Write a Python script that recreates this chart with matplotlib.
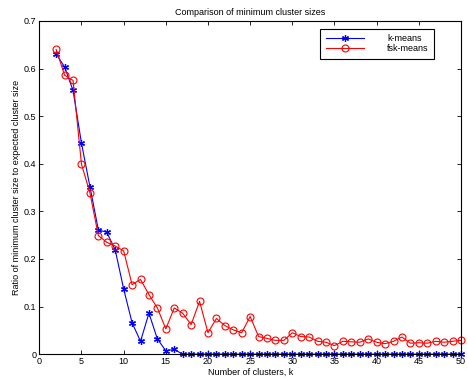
import numpy as np
import matplotlib
matplotlib.use("Agg")
import matplotlib.pyplot as plt

plt.rcParams['font.family'] = ['Liberation Sans', 'DejaVu Sans']

k = np.arange(2, 51)

kmeans = [0.631, 0.603, 0.554, 0.443, 0.352, 0.261, 0.256, 0.219, 0.137,
          0.066, 0.027, 0.086, 0.032, 0.007, 0.010] + [0.0] * 34

fskmeans = [0.640, 0.586, 0.575, 0.399, 0.339, 0.249, 0.235, 0.227, 0.217,
            0.146, 0.157, 0.125, 0.097, 0.053, 0.097, 0.086, 0.062, 0.111,
            0.045, 0.075, 0.060, 0.051, 0.045, 0.079, 0.037, 0.033, 0.029,
            0.029, 0.045, 0.037, 0.036, 0.027, 0.025, 0.018, 0.027, 0.026,
            0.025, 0.032, 0.025, 0.022, 0.027, 0.036, 0.023, 0.024, 0.023,
            0.027, 0.025, 0.027, 0.029]

xticks = np.arange(0, 51, 5)
yticks = np.arange(0, 0.71, 0.1)

fig = plt.figure(figsize=(4.68, 3.80), dpi=100)
ax = fig.add_axes([0.084, 0.068, 0.901, 0.877])

# matlab style asterisk marker
ax.plot(k, kmeans, color='blue', marker=(6, 2, 0), markersize=5,
        markeredgewidth=0.9, linewidth=0.8, label='k-means', clip_on=False)
ax.plot(k, fskmeans, color='red', marker='o', markersize=5,
        markerfacecolor='none', markeredgewidth=0.8, linewidth=0.8,
        label='fsk-means', clip_on=False)

ax.set_xlim(0, 50)
ax.set_ylim(0, 0.7)
ax.set_xticks(xticks)
ax.set_yticks(yticks)
ax.set_yticklabels(['0', '0.1', '0.2', '0.3', '0.4', '0.5', '0.6', '0.7'])
ax.tick_params(direction='in', top=True, right=True, labelsize=6.5,
               length=3, width=0.6, pad=2)
for s in ax.spines.values():
    s.set_linewidth(0.8)

ax.set_title('Comparison of minimum cluster sizes', fontsize=6.5, pad=4)
ax.set_xlabel('Number of clusters, k', fontsize=6.5, labelpad=1)
ax.set_ylabel('Ratio of minimum cluster size to expected cluster size',
              fontsize=6.5, labelpad=2)

leg = ax.legend(loc='upper right', bbox_to_anchor=(0.936, 0.976),
                borderaxespad=0, fontsize=6.5, fancybox=False,
                edgecolor='black', framealpha=1, handlelength=4.2,
                borderpad=0.6, labelspacing=0.1, handletextpad=2.6,
                numpoints=1)
leg.get_frame().set_linewidth(0.8)

fig.savefig('out.png', dpi=100, facecolor='white')
